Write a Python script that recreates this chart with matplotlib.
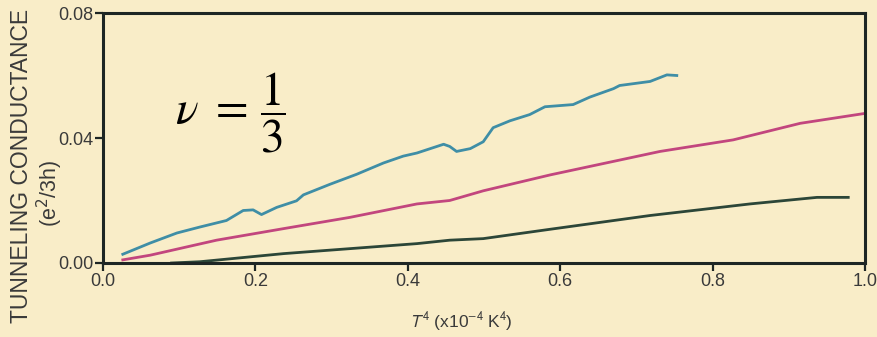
import numpy as np
import matplotlib
matplotlib.use("Agg")
import matplotlib.pyplot as plt

# ── data (T^4 in 1e-4 K^4, conductance in e^2/3h) ──
blue_x = [0.026, 0.062, 0.097, 0.127, 0.162, 0.184, 0.197, 0.208, 0.228, 0.254,
          0.263, 0.298, 0.333, 0.368, 0.394, 0.412, 0.447, 0.455, 0.464, 0.482,
          0.499, 0.512, 0.534, 0.560, 0.580, 0.617, 0.639, 0.670, 0.678, 0.718,
          0.740, 0.753]
blue_y = [0.0028, 0.0064, 0.0096, 0.0115, 0.0136, 0.0168, 0.0170, 0.0155, 0.0178, 0.0199,
          0.0218, 0.0252, 0.0284, 0.0320, 0.0342, 0.0352, 0.0380, 0.0373, 0.0357, 0.0366,
          0.0388, 0.0433, 0.0455, 0.0475, 0.0500, 0.0507, 0.0531, 0.0558, 0.0568, 0.0581,
          0.0602, 0.0600]

pink_x = [0.026, 0.062, 0.149, 0.237, 0.324, 0.412, 0.455, 0.499, 0.587, 0.731,
          0.827, 0.915, 0.998]
pink_y = [0.0010, 0.0025, 0.0073, 0.0110, 0.0146, 0.0189, 0.0200, 0.0231, 0.0282, 0.0357,
          0.0394, 0.0447, 0.0478]

green_x = [0.090, 0.127, 0.237, 0.412, 0.455, 0.499, 0.587, 0.718, 0.849, 0.937, 0.978]
green_y = [0.0000, 0.0004, 0.0030, 0.0062, 0.0073, 0.0078, 0.0108, 0.0152, 0.0189, 0.0210,
           0.0210]

x_ticks = [0.0, 0.2, 0.4, 0.6, 0.8, 1.0]
y_ticks = [0.00, 0.04, 0.08]

BG = "#f9edc8"
INK = "#1e2624"
GREY = "#3a3a3a"

plt.rcParams["font.family"] = ["Liberation Sans", "DejaVu Sans"]
plt.rcParams["mathtext.fontset"] = "stix"

fig = plt.figure(figsize=(8.78, 3.37), dpi=100, facecolor=BG)
ax = fig.add_axes([0.1173, 0.2196, 0.8679, 0.7418])
ax.set_facecolor(BG)

ax.plot(blue_x, blue_y, color="#3f8ea6", lw=2.0, solid_joinstyle="round")
ax.plot(pink_x, pink_y, color="#c2467e", lw=2.0)
ax.plot(green_x, green_y, color="#2c4638", lw=2.0)

ax.set_xlim(0, 1.0)
ax.set_ylim(0, 0.08)
ax.set_xticks(x_ticks)
ax.set_xticklabels([f"{v:.1f}" for v in x_ticks])
ax.set_yticks(y_ticks)
ax.set_yticklabels([f"{v:.2f}" for v in y_ticks])
ax.tick_params(direction="out", length=6, width=1.6, colors=INK,
               labelsize=13, labelcolor=GREY, pad=1)

for s in ax.spines.values():
    s.set_linewidth(2.2)
    s.set_color(INK)

# axis labels placed by hand to follow the scanned figure
fig.text(0.025, 0.507, "TUNNELING CONDUCTANCE", rotation=90, ha="center", va="center",
         fontsize=16.5, color=GREY)
fig.text(0.057, 0.427, "(e$^2$/3h)", rotation=90, ha="center", va="center",
         fontsize=15.5, color=GREY, math_fontfamily="dejavusans")
fig.text(0.525, 0.045, "$T^4$ (x10$^{-4}$ K$^4$)", ha="center", va="center",
         fontsize=12.5, color=GREY, math_fontfamily="stixsans")

ax.text(0.095, 0.60, r"$\nu\ =\,\dfrac{1}{3}$", transform=ax.transAxes,
        fontsize=34, color="black", ha="left", va="center")

fig.savefig("out.png", dpi=100, facecolor=BG)
